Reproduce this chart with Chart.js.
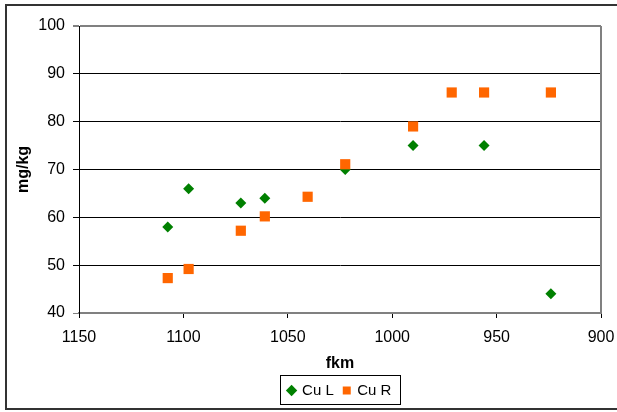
<!DOCTYPE html>
<html lang="en">
<head>
<meta charset="UTF-8" />
<title>Cu L / Cu R</title>
<script src="https://cdn.jsdelivr.net/npm/chart.js"></script>
<style>
  body { margin: 0; background: #fff; }
  #wrap { width: 617px; height: 412px; }
</style>
</head>
<body>
<div id="wrap"><canvas id="myChart" width="617" height="412"></canvas></div>
<script>
// river km positions and copper values (mg/kg)
const fkmL = [1107.5, 1097.5, 1072.5, 1061, 1022.5, 990, 956, 924];
const cuL = [58, 66, 63, 64, 70, 75, 75, 44];
const fkmR = [1107.5, 1097.5, 1072.5, 1061, 1040.5, 1022.5, 990, 971.5, 956, 924];
const cuR = [47.3, 49.2, 57.2, 60.2, 64.3, 71.1, 79, 86.1, 86.1, 86.1];
const seriesNames = ["Cu L", "Cu R"];

const toPoints = (xs, ys) => xs.map((x, i) => ({ x: x, y: ys[i] }));

const framePlugin = {
  id: "frame",
  beforeDraw(chart) {
    const c = chart.ctx;
    c.save();
    c.fillStyle = "#fff";
    c.fillRect(0, 0, chart.width, chart.height);
    c.strokeStyle = "#333";
    c.lineWidth = 2;
    c.strokeRect(6, 5, chart.width + 10, 404);
    c.restore();
  },
  afterDraw(chart) {
    const c = chart.ctx;
    const a = chart.chartArea;
    c.save();
    // right edge of plot area
    c.strokeStyle = "#808080";
    c.lineWidth = 2;
    c.beginPath();
    c.moveTo(a.right, a.top);
    c.lineTo(a.right, a.bottom);
    c.stroke();
    // box round the legend
    const hb = chart.legend.legendHitBoxes;
    if (hb && hb.length) {
      const l = hb[0].left - 9;
      const r = hb[hb.length - 1].left + hb[hb.length - 1].width + 8;
      const t = hb[0].top - 8;
      const b = hb[0].top + hb[0].height + 6;
      c.strokeStyle = "#000";
      c.lineWidth = 1;
      c.strokeRect(Math.round(l) + 0.5, Math.round(t) + 0.5, Math.round(r - l), Math.round(b - t));
    }
    c.restore();
  }
};

const ctx = document.getElementById("myChart").getContext("2d");
const myChart = new Chart(ctx, {
  type: "scatter",
  data: {
    datasets: [
      {
        label: seriesNames[0],
        data: toPoints(fkmL, cuL),
        pointStyle: "rectRot",
        pointRadius: 5.5,
        backgroundColor: "#008000",
        borderColor: "#008000",
        borderWidth: 0,
        order: 1
      },
      {
        label: seriesNames[1],
        data: toPoints(fkmR, cuR),
        pointStyle: "rect",
        pointRadius: 7.2,
        backgroundColor: "#FF6600",
        borderColor: "#FF6600",
        borderWidth: 0,
        order: 0
      }
    ]
  },
  options: {
    responsive: false,
    animation: false,
    layout: { padding: { left: 6, right: 16, top: 26, bottom: 4 } },
    scales: {
      x: {
        type: "linear",
        reverse: true,
        min: 900,
        max: 1150,
        ticks: {
          stepSize: 50,
          color: "#000",
          padding: 10,
          maxRotation: 0,
          callback: (v) => String(v),
          font: { family: "Liberation Sans, Arial", size: 16 }
        },
        grid: { drawOnChartArea: false, drawTicks: true, tickLength: 5, color: "#000" },
        border: { color: "#808080", width: 2 },
        title: {
          display: true,
          text: "fkm",
          color: "#000",
          padding: { top: 0, bottom: 0 },
          font: { family: "Liberation Sans, Arial", size: 16, weight: "bold" }
        },
        afterFit(scale) {
          scale.height = 60;
          scale.paddingLeft = 0;
          scale.paddingRight = 0;
        }
      },
      y: {
        min: 40,
        max: 100,
        ticks: {
          stepSize: 10,
          color: "#000",
          padding: 8,
          font: { family: "Liberation Sans, Arial", size: 16 }
        },
        grid: {
          tickLength: 6,
          color: (c) => (c.tick && (c.tick.value === 100 || c.tick.value === 40) ? "#808080" : "#000"),
          lineWidth: (c) => (c.tick && c.tick.value === 100 ? 2 : 1)
        },
        border: { color: "#000", width: 1 },
        title: {
          display: true,
          text: "mg/kg",
          color: "#000",
          padding: { top: 8, bottom: 0 },
          font: { family: "Liberation Sans, Arial", size: 16, weight: "bold" }
        },
        afterFit(scale) { scale.width = 73; }
      }
    },
    plugins: {
      tooltip: { enabled: false },
      legend: {
        position: "bottom",
        fullSize: false,
        labels: {
          usePointStyle: true,
          boxHeight: 8,
          boxWidth: 6,
          padding: 10,
          color: "#000",
          font: { family: "Liberation Sans, Arial", size: 15 },
          sort: (a, b) => a.datasetIndex - b.datasetIndex
        }
      }
    }
  },
  plugins: [framePlugin]
});
</script>
</body>
</html>
